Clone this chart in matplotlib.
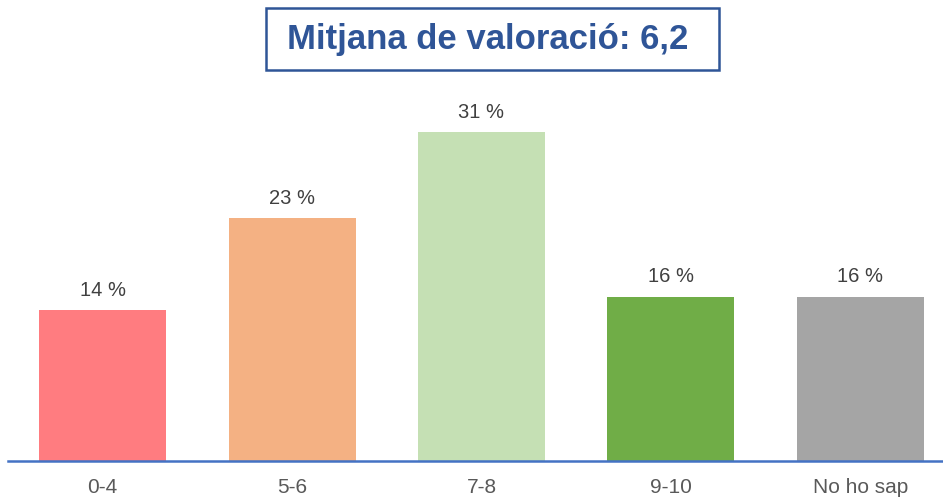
import matplotlib.pyplot as plt
from matplotlib.patches import Rectangle

plt.rcParams['font.family'] = ['Liberation Sans', 'DejaVu Sans']

categories = ['0-4', '5-6', '7-8', '9-10', 'No ho sap']
valors = [14.2, 22.9, 31.0, 15.5, 15.5]
etiquetes = ['14 %', '23 %', '31 %', '16 %', '16 %']
colors = ['#FF7C80', '#F4B183', '#C5E0B4', '#70AD47', '#A5A5A5']
titol = 'Mitjana de valoració: 6,2'

W, H = 943, 499
fig = plt.figure(figsize=(W / 100, H / 100), dpi=100)
ax = fig.add_axes([8 / W, (H - 461) / H, (W - 8) / W, 371 / H])

x = range(len(categories))
bars = ax.bar(x, valors, width=0.67, color=colors)
for b, lab in zip(bars, etiquetes):
    ax.text(b.get_x() + b.get_width() / 2, b.get_height() + 1.0, lab,
            ha='center', va='bottom', fontsize=14.5, color='#404040')

ax.set_xlim(-0.5, 4.437)
ax.set_ylim(0, 35)
ax.set_xticks(list(x))
ax.set_xticklabels(categories, fontsize=15, color='#595959')
ax.tick_params(axis='x', length=0, pad=12)
ax.set_yticks([])
for s in ['top', 'right', 'left']:
    ax.spines[s].set_visible(False)
ax.spines['bottom'].set_color('#4472C4')
ax.spines['bottom'].set_linewidth(1.8)

# caixa del títol
fig.patches.append(Rectangle((266 / W, 1 - 70 / H), (719 - 266) / W, 62 / H,
                             transform=fig.transFigure, fill=False,
                             edgecolor='#2F5597', linewidth=1.8))
fig.text(488 / W, 1 - 40 / H, titol, ha='center', va='center',
         fontsize=25, fontweight='bold', color='#2F5597')

fig.savefig('out.png', dpi=100)
